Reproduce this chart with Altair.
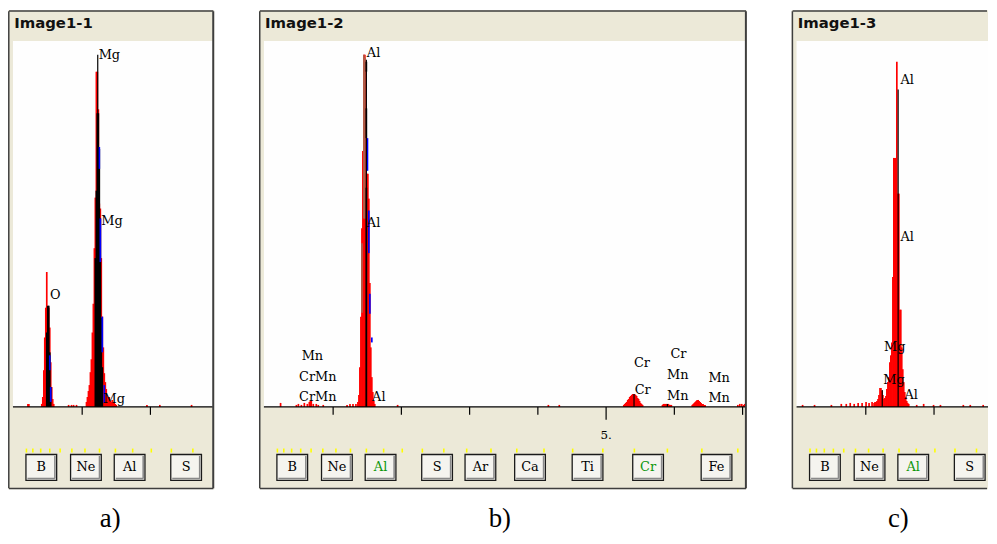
import altair as alt
import pandas as pd

# ---------------------------------------------------------------- data
PANEL_TITLES = ["Image1-1", "Image1-2", "Image1-3"]
PANEL_CAPTIONS = ["a)", "b)", "c)"]
CAPTION_KEV = [1.411, 3.442, 1.477]

AXIS_TICKS = [1, 2, 3, 4, 5, 6, 7]
AXIS_LABELS = {5: "5."}

# element line energies (keV) marked in yellow above the element buttons
YELLOW_KEV = [0.183, 0.277, 0.392, 0.525, 0.677, 0.849, 1.041, 1.254, 1.487, 1.740, 2.013,
              2.307, 2.622, 2.957, 3.313, 3.691, 4.090, 4.510, 4.952, 5.414, 5.898, 6.403, 6.930]
BUTTON_NAMES = ["B", "Ne", "Al", "S", "Ar", "Ca", "Ti", "Cr", "Fe"]
BUTTON_START = [0.176, 0.830, 1.470, 2.298, 2.933, 3.660, 4.503, 5.390, 6.393]
BUTTON_SPAN = 0.45

# ---- a) Image1-1
A_RED_KEV = [0.205, 0.219,
             0.408, 0.423, 0.438, 0.452, 0.467, 0.481, 0.496, 0.510, 0.525, 0.539, 0.554, 0.568, 0.583,
             0.801, 0.844, 0.874, 0.917,
             1.063, 1.077, 1.092, 1.106, 1.121, 1.135, 1.150, 1.164, 1.179, 1.193,
             1.208, 1.222, 1.237, 1.251, 1.266, 1.280, 1.295, 1.310, 1.324, 1.339,
             1.353, 1.368, 1.382, 1.397, 1.411, 1.426, 1.440, 1.455, 1.469, 1.484, 1.498,
             1.949, 2.138, 2.603]
A_RED_CTS = [3, 3,
             3, 10, 37, 70, 100, 136, 100, 100, 80, 45, 20, 8, 3,
             2, 2, 2, 2,
             5, 10, 16, 22, 35, 48, 75, 104, 160, 211,
             338, 338, 300, 205, 200, 150, 91, 60, 34, 25,
             18, 10, 8, 10, 6, 5, 7, 4, 5, 3, 2,
             2, 2, 2]
A_BLACK_KEV = [0.481, 0.496, 0.510, 0.525, 0.539, 1.193, 1.208, 1.222, 1.237, 1.251, 1.266, 1.280, 1.295]
A_BLACK_LO = [0] * 13
A_BLACK_HI = [75, 102, 102, 55, 20, 150, 218, 296, 296, 260, 190, 90, 40]
A_BLUE_KEV = [0.525, 0.539, 1.251, 1.266, 1.295, 1.324]
A_BLUE_LO = [37, 5, 240, 146, 55, 4]
A_BLUE_HI = [52, 20, 262, 190, 91, 22]
A_LINE_KEV = [1.228]
A_LINE_TOP = [355]
A_LABELS = ["Mg", "Mg", "Mg", "O"]
A_LABEL_KEV = [1.241, 1.281, 1.314, 0.529]
A_LABEL_CTS = [351, 183, 4, 109]

# ---- b) Image1-2
B_RED_KEV = [0.230, 0.462, 0.491, 0.535, 0.578, 0.622, 0.651, 0.666, 0.680, 0.709, 0.753, 0.782, 0.855,
             1.204, 1.247, 1.291, 1.334,
             1.363, 1.378, 1.392, 1.407, 1.422, 1.436, 1.451, 1.465, 1.480,
             1.494, 1.509, 1.523, 1.538, 1.552, 1.567, 1.581, 1.596, 1.610,
             1.945, 4.154, 4.314,
             5.259, 5.273, 5.288, 5.302, 5.317, 5.331, 5.346, 5.360, 5.375, 5.389,
             5.404, 5.418, 5.433, 5.447, 5.462, 5.476, 5.491, 5.505, 5.520, 5.535,
             5.826, 5.840, 5.855, 5.869, 5.884, 5.898, 5.913, 5.927, 5.942, 5.956,
             6.262, 6.276, 6.291, 6.305, 6.320, 6.334, 6.349, 6.363, 6.378, 6.392, 6.407, 6.421, 6.436, 6.450,
             6.930, 6.959, 6.988, 7.017, 7.032]
B_RED_CTS = [4, 2, 3, 2, 4, 3, 5, 6, 6, 3, 3, 2, 2,
             2, 3, 3, 3,
             5, 12, 40, 91, 180, 258, 355, 355, 340,
             235, 235, 210, 125, 60, 30, 15, 6, 3,
             2, 2, 2,
             2, 3, 4, 5, 7, 8, 10, 11, 12, 13,
             13, 13, 12, 11, 9, 8, 6, 4, 3, 2,
             2, 3, 3, 3, 3, 3, 3, 2, 2, 2,
             2, 3, 4, 5, 6, 7, 7, 6, 5, 4, 3, 3, 2, 2,
             2, 3, 3, 2, 3]
B_BROWN_KEV = [1.422, 1.451, 1.465]
B_BROWN_LO = [95, 190, 190]
B_BROWN_HI = [165, 355, 352]
B_BLACK_KEV = [1.487, 1.487, 1.487]
B_BLACK_LO = [0, 271, 338]
B_BLACK_HI = [221, 301, 348]
B_BLUE_KEV = [1.503, 1.523, 1.538, 1.567]
B_BLUE_LO = [238, 155, 94, 65]
B_BLUE_HI = [271, 198, 114, 70]
B_LINE_KEV = [1.487, 5.409, 5.898]
B_LINE_TOP = [350, 13, 3]
B_LABELS = ["Al", "Al", "Al", "Mn", "CrMn", "CrMn", "Cr", "Cr", "Cr", "Mn", "Mn", "Mn", "Mn"]
B_LABEL_KEV = [1.494, 1.494, 1.571, 0.539, 0.501, 0.501, 5.409, 5.418, 5.942, 5.894, 5.894, 6.499, 6.499]
B_LABEL_CTS = [353, 181, 6, 47, 26, 6, 40, 13, 49, 28, 7, 25, 5]

# ---- c) Image1-3
C_RED_KEV = [0.074, 0.249, 0.496, 0.641, 0.714, 0.772, 0.830, 0.888, 0.946, 1.004, 1.048, 1.092,
             1.121, 1.135, 1.150, 1.164, 1.179, 1.193, 1.208, 1.222, 1.237, 1.251,
             1.266, 1.280, 1.295, 1.309, 1.324, 1.338, 1.353, 1.367, 1.382, 1.397,
             1.411, 1.426, 1.440, 1.455, 1.469, 1.484, 1.498, 1.513, 1.527, 1.542,
             1.556, 1.571, 1.585, 1.600, 1.614, 1.629,
             1.746, 1.848, 1.993, 2.094, 2.429, 2.531, 2.720]
C_RED_CTS = [2, 2, 2, 3, 3, 4, 3, 4, 4, 5, 4, 5,
             4, 5, 5, 6, 8, 12, 19, 19, 16, 12,
             8, 9, 11, 18, 25, 30, 45, 52, 65, 131,
             251, 251, 251, 348, 215, 215, 98, 98, 60, 38,
             25, 15, 10, 6, 4, 3,
             2, 3, 2, 2, 2, 2, 2]
C_LINE_KEV = [1.474, 1.241]
C_LINE_TOP = [320, 17]
C_LABELS = ["Al", "Al", "Mg", "Mg", "Al"]
C_LABEL_KEV = [1.509, 1.509, 1.266, 1.256, 1.567]
C_LABEL_CTS = [326, 167, 56, 23, 8]

# ---------------------------------------------------------------- layout / style
PX_PER_KEV = 68.8
PX = 1.0 / PX_PER_KEV
HALF_BIN = 0.85 * PX
X_START = -0.087
Y_DOMAIN = [-128, 400]
VIEW_H = 528
BEIGE = "#ECE9D8"
BORDER = "#3E3E3E"
RED = "#FF0000"
GREEN = "#0A960A"
SERIF = "DejaVu Serif"


def seg(kev, lo, hi):
    return pd.DataFrame({"e0": [k - HALF_BIN for k in kev], "e1": [k + HALF_BIN for k in kev],
                         "lo": list(lo), "hi": list(hi)})


def make_panel(idx, width, red, brown, black, blue, lines, labels, highlight, right_border):
    xmin = X_START
    xmax = X_START + width * PX
    xs = alt.Scale(domain=[xmin, xmax], nice=False, zero=False)
    ys = alt.Scale(domain=Y_DOMAIN, nice=False, zero=False)

    def R(ch):
        return ch.encode(x=alt.X("e0:Q", scale=xs, axis=None), x2="e1:Q",
                         y=alt.Y("lo:Q", scale=ys, axis=None), y2="hi:Q")

    def V(ch):
        return ch.encode(x=alt.X("e:Q", scale=xs, axis=None),
                         y=alt.Y("lo:Q", scale=ys, axis=None), y2="hi:Q")

    def H(ch):
        return ch.encode(x=alt.X("e0:Q", scale=xs, axis=None), x2="e1:Q",
                         y=alt.Y("lo:Q", scale=ys, axis=None))

    def T(ch):
        return ch.encode(x=alt.X("e:Q", scale=xs, axis=None),
                         y=alt.Y("v:Q", scale=ys, axis=None), text="t:N",
                         color=alt.Color("c:N", scale=None))

    L = []
    # window frame
    L.append(R(alt.Chart(pd.DataFrame({"e0": [xmin], "e1": [xmax], "lo": [-83], "hi": [400]}))
               .mark_rect(color=BEIGE)))
    white_right = xmax - 1.5 * PX if right_border else xmax
    L.append(R(alt.Chart(pd.DataFrame({"e0": [xmin + 5 * PX], "e1": [white_right], "lo": [0], "hi": [369]}))
               .mark_rect(color="#FEFEFE")))
    # spectrum
    L.append(R(alt.Chart(seg(*red)).mark_rect(color=RED)))
    if brown is not None:
        L.append(R(alt.Chart(seg(*brown)).mark_rect(color="#B0604A")))
    if black is not None:
        L.append(R(alt.Chart(seg(*black)).mark_rect(color="#000000")))
    if blue is not None:
        L.append(R(alt.Chart(seg(*blue)).mark_rect(color="#0000FF")))
    L.append(V(alt.Chart(pd.DataFrame({"e": lines[0], "lo": [0] * len(lines[0]), "hi": lines[1]}))
               .mark_rule(color="#000000", strokeWidth=1.2)))
    # baseline and energy ticks
    L.append(H(alt.Chart(pd.DataFrame({"e0": [xmin + 5 * PX], "e1": [white_right], "lo": [0]}))
               .mark_rule(color="#000000", strokeWidth=1.3)))
    ticks = [t for t in AXIS_TICKS if t < xmax - 2 * PX]
    L.append(V(alt.Chart(pd.DataFrame({"e": ticks, "lo": [-13 if t in AXIS_LABELS else -8 for t in ticks],
                                       "hi": [0] * len(ticks)}))
               .mark_rule(color="#000000", strokeWidth=1.2)))
    tl = [t for t in ticks if t in AXIS_LABELS]
    if tl:
        L.append(T(alt.Chart(pd.DataFrame({"e": tl, "v": [-28] * len(tl), "t": [AXIS_LABELS[t] for t in tl],
                                           "c": ["#000000"] * len(tl)}))
                   .mark_text(font=SERIF, fontSize=12, baseline="middle", align="center")))
    # yellow element marks
    yk = [k for k in YELLOW_KEV if k < xmax - 2 * PX]
    L.append(V(alt.Chart(pd.DataFrame({"e": yk, "lo": [-46] * len(yk), "hi": [-42] * len(yk)}))
               .mark_rule(color="#FFFF00", strokeWidth=1.6)))
    # element buttons
    nb = [i for i in range(len(BUTTON_NAMES)) if BUTTON_START[i] + BUTTON_SPAN < xmax - 2 * PX]
    bdf = pd.DataFrame({"e0": [BUTTON_START[i] for i in nb],
                        "e1": [BUTTON_START[i] + BUTTON_SPAN for i in nb],
                        "lo": [-74] * len(nb), "hi": [-48] * len(nb)})
    L.append(R(alt.Chart(bdf).mark_rect(fill="#F5F4EF", stroke="#1A1A1A", strokeWidth=1.3)))
    sh = pd.DataFrame({"e0": [BUTTON_START[i] + 1.5 * PX for i in nb],
                       "e1": [BUTTON_START[i] + BUTTON_SPAN - 1.5 * PX for i in nb],
                       "lo": [-72.2] * len(nb)})
    L.append(H(alt.Chart(sh).mark_rule(color="#8A8A8A", strokeWidth=1.6)))
    sv = pd.DataFrame({"e": [BUTTON_START[i] + BUTTON_SPAN - 1.8 * PX for i in nb],
                       "lo": [-72.2] * len(nb), "hi": [-49.5] * len(nb)})
    L.append(V(alt.Chart(sv).mark_rule(color="#8A8A8A", strokeWidth=1.6)))
    btxt = pd.DataFrame({"e": [BUTTON_START[i] + BUTTON_SPAN / 2 for i in nb],
                         "v": [-61] * len(nb), "t": [BUTTON_NAMES[i] for i in nb],
                         "c": [GREEN if BUTTON_NAMES[i] in highlight else "#000000" for i in nb]})
    L.append(T(alt.Chart(btxt).mark_text(font=SERIF, fontSize=13, baseline="middle", align="center")))
    # peak labels
    ldf = pd.DataFrame({"e": labels[1], "v": labels[2], "t": labels[0], "c": ["#000000"] * len(labels[0])})
    L.append(T(alt.Chart(ldf).mark_text(font=SERIF, fontSize=13, baseline="alphabetic", align="left")))
    # borders
    L.append(V(alt.Chart(pd.DataFrame({"e": [xmin + 0.8 * PX], "lo": [-82], "hi": [399]}))
               .mark_rule(color=BORDER, strokeWidth=1.5)))
    hb = pd.DataFrame({"e0": [xmin + 1 * PX, xmin + 1 * PX], "e1": [xmax - 1 * PX, xmax - 1 * PX],
                       "lo": [399.2, -82.2]})
    L.append(H(alt.Chart(hb).mark_rule(color=BORDER, strokeWidth=1.5)))
    if right_border:
        L.append(V(alt.Chart(pd.DataFrame({"e": [xmax - 1.1 * PX], "lo": [-82], "hi": [399]}))
                   .mark_rule(color=BORDER, strokeWidth=2)))
    # title and caption
    L.append(T(alt.Chart(pd.DataFrame({"e": [0.003], "v": [382], "t": [PANEL_TITLES[idx]], "c": ["#111111"]}))
               .mark_text(font="DejaVu Sans", fontSize=15, fontWeight="bold", baseline="alphabetic",
                          align="left")))
    L.append(T(alt.Chart(pd.DataFrame({"e": [CAPTION_KEV[idx]], "v": [-121], "t": [PANEL_CAPTIONS[idx]],
                                       "c": ["#000000"]}))
               .mark_text(font="Liberation Serif", fontSize=27, baseline="alphabetic", align="center")))
    return alt.layer(*L).properties(width=width, height=VIEW_H)


pa = make_panel(0, 208, (A_RED_KEV, [0] * len(A_RED_KEV), A_RED_CTS), None,
                (A_BLACK_KEV, A_BLACK_LO, A_BLACK_HI), (A_BLUE_KEV, A_BLUE_LO, A_BLUE_HI),
                (A_LINE_KEV, A_LINE_TOP), (A_LABELS, A_LABEL_KEV, A_LABEL_CTS), [], True)
pb = make_panel(1, 492, (B_RED_KEV, [0] * len(B_RED_KEV), B_RED_CTS), (B_BROWN_KEV, B_BROWN_LO, B_BROWN_HI),
                (B_BLACK_KEV, B_BLACK_LO, B_BLACK_HI), (B_BLUE_KEV, B_BLUE_LO, B_BLUE_HI),
                (B_LINE_KEV, B_LINE_TOP), (B_LABELS, B_LABEL_KEV, B_LABEL_CTS), ["Al", "Cr"], True)
pc = make_panel(2, 198, (C_RED_KEV, [0] * len(C_RED_KEV), C_RED_CTS), None, None, None,
                (C_LINE_KEV, C_LINE_TOP), (C_LABELS, C_LABEL_KEV, C_LABEL_CTS), ["Al"], False)

chart = (alt.hconcat(pa, pb, pc, spacing=45)
         .properties(padding=0, background="white")
         .configure_view(stroke=None))

chart.save("out.html", embed_options={"renderer": "svg", "actions": False})
